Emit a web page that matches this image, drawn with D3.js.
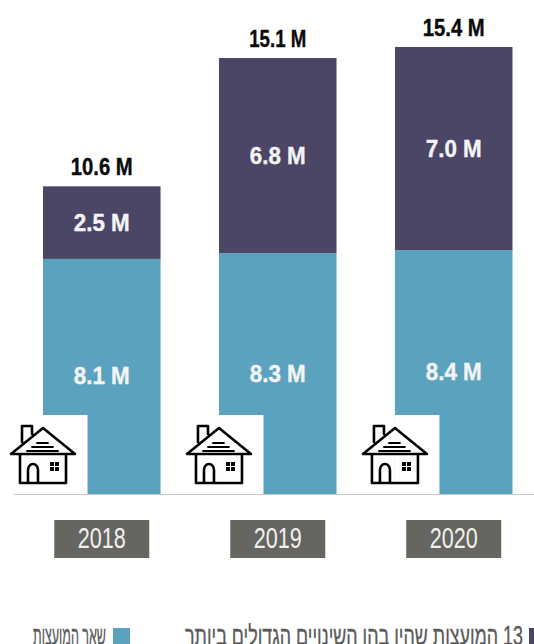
<!DOCTYPE html>
<html>
<head>
<meta charset="utf-8">
<script src="https://cdn.jsdelivr.net/npm/d3@7"></script>
<style>
  html, body { margin: 0; padding: 0; background: #fff; overflow: hidden; }
  text { font-family: "Liberation Sans", sans-serif; }
</style>
</head>
<body>
<div id="chart"></div>
<script>
const years = ["2018", "2019", "2020"];
const otherCouncils = [8.1, 8.3, 8.4];
const topCouncils = [2.5, 6.8, 7.0];
// printed totals, and the height the bars are actually drawn to in the picture
const totals = [10.6, 15.1, 15.4];
const barTops = [10.6, 15.02, 15.4];
const legendLabels = ["13 המועצות שהיו בהן השינויים הגדולים ביותר", "שאר המועצות"];

const width = 534;
const height = 644;
const baseline = 494;
const colors = { top: "#4b4566", other: "#5ba2bf", year: "#666560" };

const svg = d3
  .select("#chart")
  .append("svg")
  .attr("width", width)
  .attr("height", height)
  .style("display", "block");

const x = d3.scaleBand().domain(years).range([43, 512.5]).paddingInner(0.332).paddingOuter(0);
const y = d3.scaleLinear().domain([0, 15.4]).range([baseline, 47]);

const fmt = (v) => v.toFixed(1) + " M";

// Stacked bars
const rows = years.map((year, i) => ({
  year: year,
  other: otherCouncils[i],
  top: topCouncils[i],
  total: totals[i],
  barTop: barTops[i],
}));

const groups = svg.selectAll("g.year").data(rows).join("g").attr("class", "year");

groups
  .append("rect")
  .attr("x", (d) => x(d.year))
  .attr("width", x.bandwidth())
  .attr("y", (d) => y(d.other))
  .attr("height", (d) => y(0) - y(d.other))
  .attr("fill", colors.other);

groups
  .append("rect")
  .attr("x", (d) => x(d.year))
  .attr("width", x.bandwidth())
  .attr("y", (d) => y(d.barTop))
  .attr("height", (d) => y(d.other) - y(d.barTop))
  .attr("fill", colors.top);

// Value labels
const label = (sel, yFn, value, fill, w) =>
  sel
    .append("text")
    .attr("x", (d) => x(d.year) + x.bandwidth() / 2)
    .attr("y", yFn)
    .attr("text-anchor", "middle")
    .attr("font-size", 24)
    .attr("font-weight", 700)
    .attr("fill", fill)
    .attr("stroke", fill)
    .attr("stroke-width", 0.4)
    .attr("textLength", w)
    .attr("lengthAdjust", "spacingAndGlyphs")
    .text((d) => fmt(value(d)));

label(groups, (d) => (y(d.other) + y(d.barTop)) / 2 + 8, (d) => d.top, "#f4f4f6", 56);
label(groups, (d) => (y(0) + y(d.other)) / 2 + 8, (d) => d.other, "#f4f4f6", 56);
label(groups, (d) => y(d.barTop) - 11, (d) => d.total, "#0b0b0b", (d) => (d.total === 15.1 ? 57 : 62));

// White patch at the foot of each bar, house icon centred on the bar's left edge
const house = groups
  .append("g")
  .attr("transform", (d) => "translate(" + x(d.year) + "," + baseline + ")");

house.append("rect").attr("x", 0).attr("y", -79).attr("width", 44.5).attr("height", 80).attr("fill", "#fff");

const icon = house
  .append("g")
  .attr("fill", "none")
  .attr("stroke", "#000")
  .attr("stroke-linejoin", "round")
  .attr("stroke-linecap", "round");
icon
  .append("path")
  .attr("stroke-width", 2.6)
  .attr("d", "M-32,-40 L0,-66 L32,-40 Z M-23,-40 V-11 H23 V-40 M-15,-11 V-24 A5,6 0 0 1 -5,-24 V-11 M-21,-52 V-68 H-11 V-60");
icon
  .append("path")
  .attr("stroke-width", 1.8)
  .attr("d", "M-6,-51 H5 M-11,-47 H10 M-16,-43 H15");
icon
  .selectAll("rect.pane")
  .data([[7, -32], [12, -32], [7, -27], [12, -27]])
  .join("rect")
  .attr("class", "pane")
  .attr("x", (d) => d[0])
  .attr("y", (d) => d[1])
  .attr("width", 4)
  .attr("height", 4)
  .attr("fill", "#000")
  .attr("stroke", "none");

// Baseline
svg
  .append("line")
  .attr("x1", 14)
  .attr("x2", width)
  .attr("y1", baseline + 0.5)
  .attr("y2", baseline + 0.5)
  .attr("stroke", "#c4c8ca")
  .attr("stroke-width", 1);

// Year boxes
svg
  .selectAll("rect.yearbox")
  .data(years)
  .join("rect")
  .attr("class", "yearbox")
  .attr("x", (d) => x(d) + x.bandwidth() / 2 - 47.5)
  .attr("y", 520)
  .attr("width", 95)
  .attr("height", 38)
  .attr("fill", colors.year);

const axis = svg
  .append("g")
  .attr("transform", "translate(0,520)")
  .call(d3.axisBottom(x).tickSize(0).tickPadding(7));
axis.select(".domain").remove();
axis
  .selectAll("text")
  .attr("font-size", 29)
  .attr("fill", "#f1f1ee")
  .attr("textLength", 48)
  .attr("lengthAdjust", "spacingAndGlyphs")
  .style("font-family", '"Liberation Sans", sans-serif');

// Legend, cut off by the bottom edge as in the source image
svg.append("rect").attr("x", 529).attr("y", 628).attr("width", 5).attr("height", 16).attr("fill", colors.top);
svg.append("rect").attr("x", 113).attr("y", 628).attr("width", 17).attr("height", 16).attr("fill", colors.other);

svg
  .selectAll("text.legend")
  .data(legendLabels)
  .join("text")
  .attr("class", "legend")
  .attr("x", (d, i) => (i === 0 ? 523 : 106))
  .attr("y", 645)
  .attr("direction", "rtl")
  .attr("text-anchor", "start")
  .attr("font-size", 27)
  .attr("fill", "#5a5a5a")
  .attr("stroke", "#5a5a5a")
  .attr("stroke-width", 0.35)
  .attr("textLength", (d, i) => (i === 0 ? 338 : 73))
  .attr("lengthAdjust", "spacingAndGlyphs")
  .text((d) => d);
</script>
</body>
</html>
